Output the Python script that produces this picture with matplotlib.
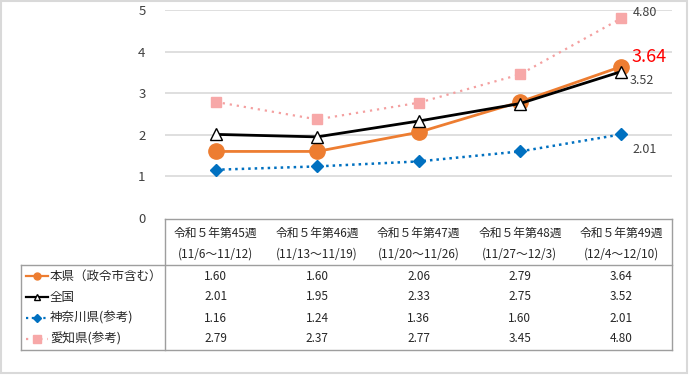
import matplotlib
matplotlib.use("Agg")
import matplotlib.pyplot as plt
from matplotlib.patches import Rectangle

plt.rcParams['font.family'] = ['Noto Sans CJK JP', 'DejaVu Sans']

weeks = ["令和５年第45週", "令和５年第46週", "令和５年第47週", "令和５年第48週", "令和５年第49週"]
periods = ["(11/6～11/12)", "(11/13～11/19)", "(11/20～11/26)", "(11/27～12/3)", "(12/4～12/10)"]
series_names = ["本県（政令市含む）", "全国", "神奈川県(参考)", "愛知県(参考)"]
honken = [1.60, 1.60, 2.06, 2.79, 3.64]
zenkoku = [2.01, 1.95, 2.33, 2.75, 3.52]
kanagawa = [1.16, 1.24, 1.36, 1.60, 2.01]
aichi = [2.79, 2.37, 2.77, 3.45, 4.80]
yticks = [0, 1, 2, 3, 4, 5]

W, H = 690, 375
fig = plt.figure(figsize=(W / 100, H / 100), dpi=100)

# overlay axes in pixel coordinates for the data table and frame
tab = fig.add_axes([0, 0, 1, 1], zorder=0)
tab.set_xlim(0, W)
tab.set_ylim(H, 0)
tab.axis('off')

x_left, x_tab, x_right = 21, 165, 672
y_top, y_head, y_bot = 219, 265, 350
col_w = (x_right - x_tab) / len(weeks)

# chart axes
ax = fig.add_axes([x_tab / W, (H - 218) / H, (x_right - x_tab) / W, (218 - 10) / H], zorder=2)
ax.patch.set_alpha(0)
xs = list(range(len(weeks)))
ax.set_xlim(-0.5, len(weeks) - 0.5)
ax.set_ylim(0, 5)
ax.set_yticks(yticks)
ax.set_xticks([])
for s in ax.spines.values():
    s.set_visible(False)
ax.tick_params(axis='y', length=0, pad=14, labelsize=9.5, labelcolor='#404040')
for t in yticks[1:]:
    ax.axhline(t, color='#D9D9D9', lw=1.2, zorder=0)

styles = [
    dict(color='#F4A0A0', ls=(0, (1, 2.2)), lw=1.6, marker='s', ms=7.5, mfc='#F7A8A8', mec='#F7A8A8'),
    dict(color='#0070C0', ls=(0, (1, 1.6)), lw=1.8, marker='D', ms=6.5, mfc='#0070C0', mec='#0070C0'),
    dict(color='#ED7D31', ls='-', lw=2.0, marker='o', ms=11, mfc='#ED7D31', mec='#ED7D31'),
    dict(color='#000000', ls='-', lw=2.0, marker='^', ms=8, mfc='white', mec='black', mew=1.0),
]
data_order = [aichi, kanagawa, honken, zenkoku]
for d, st in zip(data_order, styles):
    ax.plot(xs, d, clip_on=False, **st)

# data labels on last point
def lab(val, text, dx, dy, **kw):
    ax.annotate(text, (xs[-1], val), xytext=(dx * 0.72, dy * 0.72), textcoords='offset points',
                ha='left', va='center', **kw)

lab(aichi[-1], f"{aichi[-1]:.2f}", 11, 6, fontsize=9, color='#404040')
lab(honken[-1], f"{honken[-1]:.2f}", 10, 10, fontsize=13, color='#FF0000')
lab(zenkoku[-1], f"{zenkoku[-1]:.2f}", 8, -9, fontsize=9, color='#404040')
lab(kanagawa[-1], f"{kanagawa[-1]:.2f}", 11, -15, fontsize=9, color='#404040')

# table lines
gc = '#9E9E9E'
tab.plot([x_tab, x_right], [y_top, y_top], color=gc, lw=1)
tab.plot([x_left, x_right], [y_head, y_head], color=gc, lw=1)
tab.plot([x_left, x_right], [y_bot, y_bot], color=gc, lw=1)
tab.plot([x_tab, x_tab], [y_top, y_bot], color=gc, lw=1)
tab.plot([x_right, x_right], [y_top, y_bot], color=gc, lw=1)
tab.plot([x_left, x_left], [y_head, y_bot], color=gc, lw=1)

fs = 8.5
tc = '#262626'
for i, (wk, pr) in enumerate(zip(weeks, periods)):
    cx = x_tab + (i + 0.5) * col_w
    tab.text(cx, 233, wk, ha='center', va='center', fontsize=fs, color=tc)
    tab.text(cx, 254, pr, ha='center', va='center', fontsize=fs, color=tc)

row_y = [276, 297, 318, 339]
row_data = [honken, zenkoku, kanagawa, aichi]
row_styles = [styles[2], styles[3], styles[1], styles[0]]
for ry, name, d, st in zip(row_y, series_names, row_data, row_styles):
    st2 = dict(st)
    st2['ms'] = {'o': 5, '^': 5, 'D': 4.5, 's': 6}[st['marker']]
    st2['lw'] = min(st['lw'], 1.6)
    tab.plot([26, 48], [ry, ry], markevery=[], **{k: v for k, v in st2.items() if k not in ('marker', 'ms', 'mfc', 'mec', 'mew')})
    tab.plot([37], [ry], ls='none', **{k: v for k, v in st2.items() if k not in ('ls', 'lw', 'color')})
    tab.text(50, ry, name, ha='left', va='center', fontsize=fs + 0.5, color=tc)
    for i, v in enumerate(d):
        cx = x_tab + (i + 0.5) * col_w
        tab.text(cx, ry, f"{v:.2f}", ha='center', va='center', fontsize=fs, color=tc)

# outer frame
tab.add_patch(Rectangle((1, 0.5), 686, 372.5, fill=False, edgecolor='#D9D9D9', lw=1.5))

fig.savefig('out.png', dpi=100)
